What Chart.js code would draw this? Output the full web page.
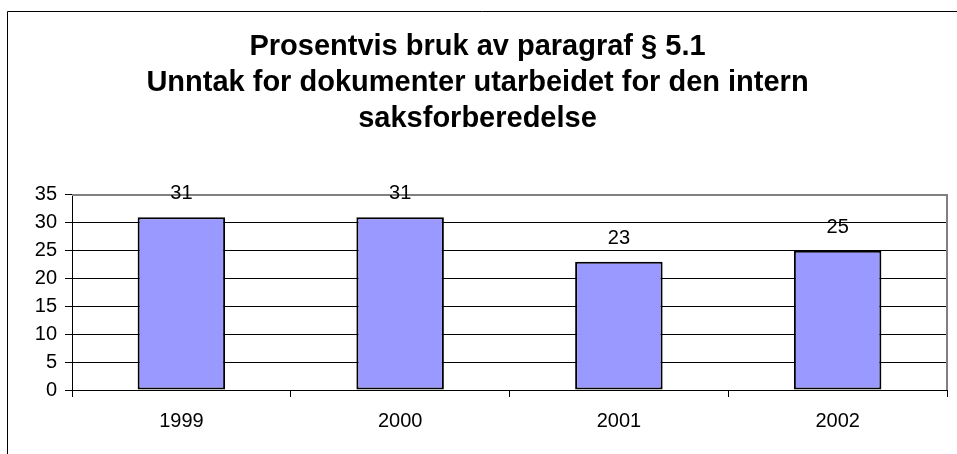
<!DOCTYPE html>
<html>
<head>
<meta charset="utf-8">
<script src="https://cdn.jsdelivr.net/npm/chart.js@4"></script>
<style>
  html, body { margin: 0; padding: 0; background: #fff; }
  #wrap { width: 957px; height: 454px; }
</style>
</head>
<body>
<div id="wrap"><canvas id="paragrafChart" width="957" height="454"></canvas></div>
<script>
const years = ['1999', '2000', '2001', '2002'];
const percentUse = [31, 31, 23, 25];
const titleLines = [
  'Prosentvis bruk av paragraf § 5.1',
  'Unntak for dokumenter utarbeidet for den intern',
  'saksforberedelse'
];
const yTicks = [0, 5, 10, 15, 20, 25, 30, 35];

const fontFamily = "'Liberation Sans', Arial, sans-serif";

// outer frame (only left and top are inside the picture)
const framePlugin = {
  id: 'frame',
  beforeDraw(chart) {
    const ctx = chart.ctx;
    ctx.save();
    ctx.strokeStyle = '#000';
    ctx.lineWidth = 1;
    ctx.beginPath();
    ctx.moveTo(7.5, 460);
    ctx.lineTo(7.5, 11.5);
    ctx.lineTo(960, 11.5);
    ctx.stroke();
    ctx.restore();
  }
};

// grey plot border on top and right
const plotBorderPlugin = {
  id: 'plotBorder',
  beforeDatasetsDraw(chart) {
    const { ctx, chartArea: a } = chart;
    ctx.save();
    ctx.strokeStyle = '#808080';
    ctx.lineWidth = 2;
    ctx.beginPath();
    ctx.moveTo(a.left, a.top);
    ctx.lineTo(a.right, a.top);
    ctx.lineTo(a.right, a.bottom);
    ctx.stroke();
    ctx.restore();
  }
};

const valueLabels = {
  id: 'valueLabels',
  afterDatasetsDraw(chart) {
    const ctx = chart.ctx;
    const meta = chart.getDatasetMeta(0);
    ctx.save();
    ctx.fillStyle = '#000';
    ctx.font = '20px ' + fontFamily;
    ctx.textAlign = 'center';
    ctx.textBaseline = 'middle';
    meta.data.forEach((bar, i) => {
      ctx.fillText(String(percentUse[i]), bar.x, bar.y - 23.5);
    });
    ctx.restore();
  }
};

new Chart(document.getElementById('paragrafChart'), {
  type: 'bar',
  data: {
    labels: years,
    datasets: [{
      data: percentUse,
      backgroundColor: '#9999FF',
      borderColor: '#000',
      borderWidth: 2,
      borderSkipped: false,
      barPercentage: 0.4,
      categoryPercentage: 1
    }]
  },
  options: {
    responsive: false,
    animation: false,
    layout: { padding: { left: 8, right: 10, top: 0, bottom: 0 } },
    plugins: {
      legend: { display: false },
      tooltip: { enabled: false },
      title: {
        display: true,
        text: titleLines,
        color: '#000',
        font: { family: fontFamily, size: 29, weight: 'bold', lineHeight: 1.241 },
        padding: { top: 29, bottom: 58 }
      }
    },
    scales: {
      x: {
        afterFit: s => { s.height = 64; },
        grid: {
          offset: true,
          drawOnChartArea: false,
          color: '#000',
          tickColor: '#000',
          tickLength: 7
        },
        border: { color: '#000', width: 1 },
        ticks: {
          color: '#000',
          padding: 12,
          font: { family: fontFamily, size: 20 }
        }
      },
      y: {
        min: 0,
        max: 35,
        afterFit: s => { s.width = 64; },
        afterBuildTicks: s => { s.ticks = yTicks.map(v => ({ value: v })); },
        grid: {
          color: ctx => (ctx.tick && ctx.tick.value === 35) ? '#808080' : '#000',
          tickColor: '#000',
          tickLength: 7,
          lineWidth: 1
        },
        border: { color: '#000', width: 1 },
        ticks: {
          color: '#000',
          padding: 8,
          font: { family: fontFamily, size: 20 }
        }
      }
    }
  },
  plugins: [framePlugin, plotBorderPlugin, valueLabels]
});
</script>
</body>
</html>
